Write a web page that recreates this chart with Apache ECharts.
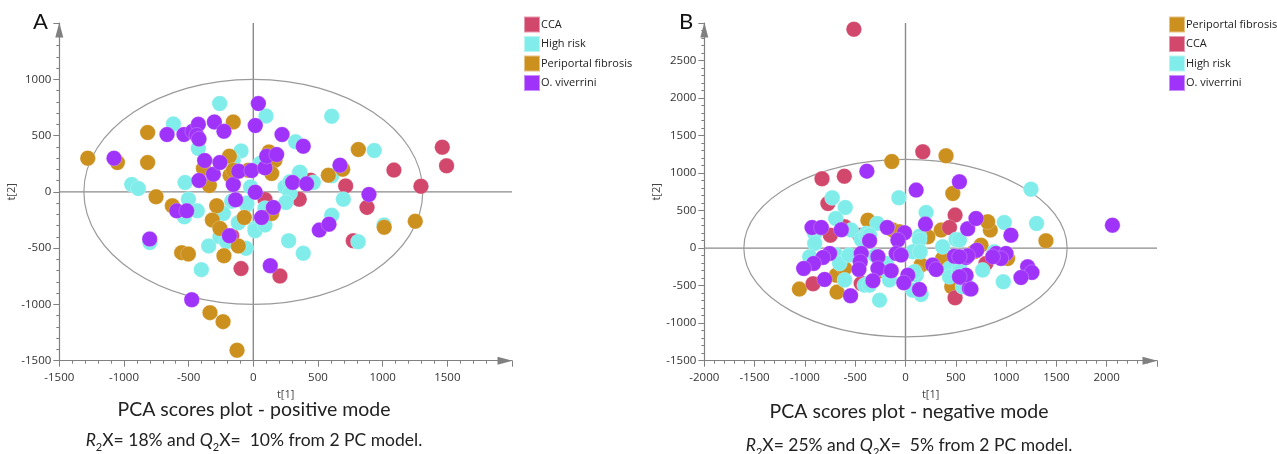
<!DOCTYPE html>
<html><head><meta charset="utf-8">
<style>html,body{margin:0;padding:0;background:#fff}#c{width:1277px;height:454px}</style>
<script src="https://cdn.jsdelivr.net/npm/echarts@6/dist/echarts.min.js"></script>
</head><body><div id="c"></div>
<script>
// Panel A - positive mode [t1, t2]
const ccaA=[[1461,397],[1494,231],[1087,193],[1296,50],[714,53],[879,-138],[773,-435],[90,-68],[355,-65],[443,104],[-95,-682],[206,-748],[-167,-390]];
const highRiskA=[[-260,784],[98,674],[-618,603],[-425,385],[-95,364],[327,444],[-940,65],[-889,30],[-528,83],[-502,-65],[-433,-169],[-533,-222],[-167,-83],[-52,-118],[-21,44],[52,251],[-155,281],[245,44],[283,89],[355,169],[283,-15],[252,-95],[464,83],[606,-207],[606,672],[-116,-275],[77,-281],[13,-325],[-232,-192],[-345,-481],[-402,-691],[-57,-502],[13,-345],[90,-295],[273,-434],[386,-546],[-258,-398],[-206,-443],[935,367],[606,142],[696,-65],[1010,-295],[811,-443],[361,175],[-49,-100],[90,-145],[-800,-450]];
const periportalA=[[-1280,299],[-1051,260],[-817,527],[-817,260],[-752,-44],[-626,-124],[-386,207],[-340,56],[-185,317],[-155,621],[-283,-124],[-317,-251],[-258,-325],[-70,-228],[-180,148],[-155,192],[-39,192],[121,355],[167,281],[142,163],[142,-192],[-554,-540],[-502,-552],[-227,-567],[-116,-481],[-335,-1073],[-234,-1153],[-126,-1407],[812,376],[580,148],[691,201],[1012,-315],[1252,-262]];
const viverriniA=[[-1077,299],[-667,509],[-536,509],[-469,538],[-425,600],[-438,503],[-420,470],[-301,621],[-227,538],[15,589],[39,784],[222,509],[386,405],[-376,278],[-420,101],[-309,157],[-258,260],[-155,65],[-113,183],[-13,189],[90,213],[103,317],[180,331],[15,-3],[-137,-71],[155,-139],[64,-228],[-592,-169],[-515,-169],[304,83],[412,71],[510,-340],[585,-287],[-801,-419],[-185,-390],[131,-656],[-476,-958],[670,237],[894,-23]];
// Panel B - negative mode [t1, t2]
const periportalB=[[-136,1154],[403,1230],[470,728],[-374,373],[354,240],[-126,240],[-1055,-546],[-681,-586],[460,-515],[-688,-360],[222,151],[370,-138],[155,-226],[106,-315],[-605,-271],[-60,218],[1396,98],[843,240],[751,40],[685,-49],[1015,-138],[817,351],[-250,-300]];
const ccaB=[[-513,2917],[172,1283],[-830,924],[-608,959],[-771,595],[493,440],[437,275],[-605,284],[493,-662],[-919,-475],[-423,-471],[-747,173],[-440,-471],[-456,173],[800,-204]];
const highRiskB=[[-728,670],[-599,542],[-694,395],[-66,670],[205,475],[-281,329],[-539,240],[-390,195],[1247,786],[982,342],[1303,329],[-258,-693],[155,-617],[-605,-426],[-159,-426],[-374,-471],[106,-360],[-440,115],[-903,195],[-903,62],[-952,-115],[-688,-93],[-655,-204],[-562,-93],[-407,-493],[-357,-493],[-384,160],[-300,-100],[-190,-300],[139,160],[139,107],[73,-49],[146,-49],[370,18],[503,115],[437,-271],[437,-382],[536,-249],[602,-382],[73,-560],[89,-315],[-192,-204],[-357,173],[767,-293],[972,-448],[883,-49],[536,107],[569,-515],[536,-315]];
const viverriniB=[[-384,1026],[106,773],[536,884],[198,320],[-182,275],[-929,275],[-837,275],[-638,245],[-10,204],[618,258],[2057,306],[701,395],[-76,107],[-357,98],[-440,-71],[-450,-182],[-463,-284],[-274,-115],[-274,-271],[-142,-302],[-324,-435],[-93,-71],[-43,-93],[23,-360],[-17,-462],[139,-551],[271,-226],[304,-284],[486,-107],[602,-124],[552,-391],[635,-537],[-754,-71],[-820,-124],[-913,-204],[-1012,-271],[-804,-417],[-546,-635],[708,-27],[618,-102],[536,-115],[900,-71],[999,-71],[949,-138],[867,-115],[1048,173],[1214,-249],[1257,-324],[1148,-391],[602,-360],[536,-382],[651,-546]];

const legendA=['CCA','High risk','Periportal fibrosis','O. viverrini'];
const legendB=['Periportal fibrosis','CCA','High risk','O. viverrini'];
const colors={'CCA':'#D2476C','High risk':'#80EDEA','Periportal fibrosis':'#CC901F','O. viverrini':'#A033FA'};
const titleA='PCA scores plot - positive mode', titleB='PCA scores plot - negative mode';
const ellipseA={rx:1310,ry:1000}, ellipseB={rx:1607,ry:1182};

const LABEL_FONT='"Open Sans"', TITLE_FONT='Lato';
const axisBase={
  type:'value',interval:500,nameLocation:'middle',
  nameTextStyle:{fontFamily:LABEL_FONT,fontSize:11,color:'#444'},
  axisLine:{onZero:false,lineStyle:{color:'#808080',width:1.2},symbol:['none','triangle'],symbolSize:[8,15],symbolOffset:[0,-7]},
  axisTick:{length:6,lineStyle:{color:'#808080'}},
  minorTick:{show:true,splitNumber:5,length:3,lineStyle:{color:'#808080'}},
  axisLabel:{showMaxLabel:false,hideOverlap:false,fontFamily:LABEL_FONT,fontSize:11.5,color:'#333',formatter:v=>String(v)},
  splitLine:{show:false},minorSplitLine:{show:false}
};
function xAxis(i,min,max){return Object.assign({},axisBase,{gridIndex:i,min,max,name:'t[1]',nameGap:29,axisLabel:Object.assign({},axisBase.axisLabel,{margin:11})});}
function yAxis(i,min,max){return Object.assign({},axisBase,{gridIndex:i,min,max,name:'t[2]',nameGap:34,axisLabel:Object.assign({},axisBase.axisLabel,{margin:8})});}

function frame(i,el,xr,yr){return {
  type:'custom',xAxisIndex:i,yAxisIndex:i,z:1,silent:true,clip:false,data:[[0,0]],
  renderItem:function(p,api){
    const c=api.coord([0,0]),e=api.coord([el.rx,el.ry]);
    const a=api.coord([xr[0],0]),b=api.coord([xr[1],0]),d=api.coord([0,yr[0]]),f=api.coord([0,yr[1]]);
    const ls={stroke:'#8a8a8a',lineWidth:1.4,fill:null};
    return {type:'group',children:[
      {type:'line',shape:{x1:a[0],y1:a[1],x2:b[0],y2:b[1]},style:ls},
      {type:'line',shape:{x1:d[0],y1:d[1],x2:f[0],y2:f[1]},style:ls},
      {type:'ellipse',shape:{cx:c[0],cy:c[1],rx:Math.abs(e[0]-c[0]),ry:Math.abs(e[1]-c[1])},style:{stroke:'#9a9a9a',lineWidth:1.2,fill:'none'}}
    ]};
  }
};}
function pts(i,name,data,z){return {type:'scatter',name,data,xAxisIndex:i,yAxisIndex:i,symbolSize:15.5,z,clip:false,silent:true,
  itemStyle:{color:colors[name],opacity:1,borderColor:'rgba(255,255,255,0.45)',borderWidth:0.5}};}
function legend(left,data){return {orient:'vertical',left,top:15.5,data,icon:'rect',itemWidth:16,itemHeight:16,itemGap:1.5,selectedMode:false,padding:0,
  textStyle:{fontFamily:LABEL_FONT,fontSize:11,lineHeight:16,height:16,color:'#222',padding:[0,0,0,-4]}};}
function sub(r,q){return '{i|R}{s|2}{n|X= '+r+' and }{i|Q}{s|2}{n|X=  '+q+' from 2 PC model.}';}
const rich={
  i:{fontFamily:TITLE_FONT,fontSize:17.5,fontWeight:'normal',fontStyle:'italic',color:'#222',verticalAlign:'middle',lineHeight:26},
  n:{fontFamily:TITLE_FONT,fontSize:17.5,fontWeight:'normal',color:'#222',verticalAlign:'middle',lineHeight:26},
  s:{fontFamily:TITLE_FONT,fontSize:11,fontWeight:'normal',color:'#222',verticalAlign:'bottom',lineHeight:26}
};
const tt=(text,left,top,size)=>({text,left,top,textAlign:'center',padding:0,textStyle:{fontFamily:TITLE_FONT,fontWeight:'normal',fontSize:size,color:'#222'}});
const ts=(text,left,top)=>({text,left,top,textAlign:'center',padding:0,textStyle:{rich,fontWeight:'normal',fontSize:17.5}});

const chart=echarts.init(document.getElementById('c'),null,{renderer:'canvas'});
chart.setOption({
  animation:false,backgroundColor:'#fff',
  title:[
    {text:'A',left:33,top:11,padding:0,textStyle:{fontFamily:TITLE_FONT,fontWeight:'normal',fontSize:22,color:'#111'}},
    {text:'B',left:679,top:11,padding:0,textStyle:{fontFamily:TITLE_FONT,fontWeight:'normal',fontSize:22,color:'#111'}},
    tt(titleA,254,400,19.5),tt(titleB,909,402,19.5),
    ts(sub('18%','10%'),254,427),ts(sub('25%','5%'),909,432)
  ],
  legend:[legend(523,legendA),legend(1168,legendB)],
  grid:[
    {left:59.3,top:23,width:452.7,height:337.7},
    {left:704.3,top:23,width:452.7,height:337.7}
  ],
  xAxis:[xAxis(0,-1500,2000),xAxis(1,-2000,2500)],
  yAxis:[yAxis(0,-1500,1500),yAxis(1,-1500,3000)],
  series:[
    frame(0,ellipseA,[-1500,2000],[-1500,1500]),
    frame(1,ellipseB,[-2000,2500],[-1500,3000]),
    pts(0,'CCA',ccaA,2),pts(0,'High risk',highRiskA,3),pts(0,'Periportal fibrosis',periportalA,4),pts(0,'O. viverrini',viverriniA,5),
    pts(1,'Periportal fibrosis',periportalB,2),pts(1,'CCA',ccaB,3),pts(1,'High risk',highRiskB,4),pts(1,'O. viverrini',viverriniB,5)
  ]
});
</script></body></html>
